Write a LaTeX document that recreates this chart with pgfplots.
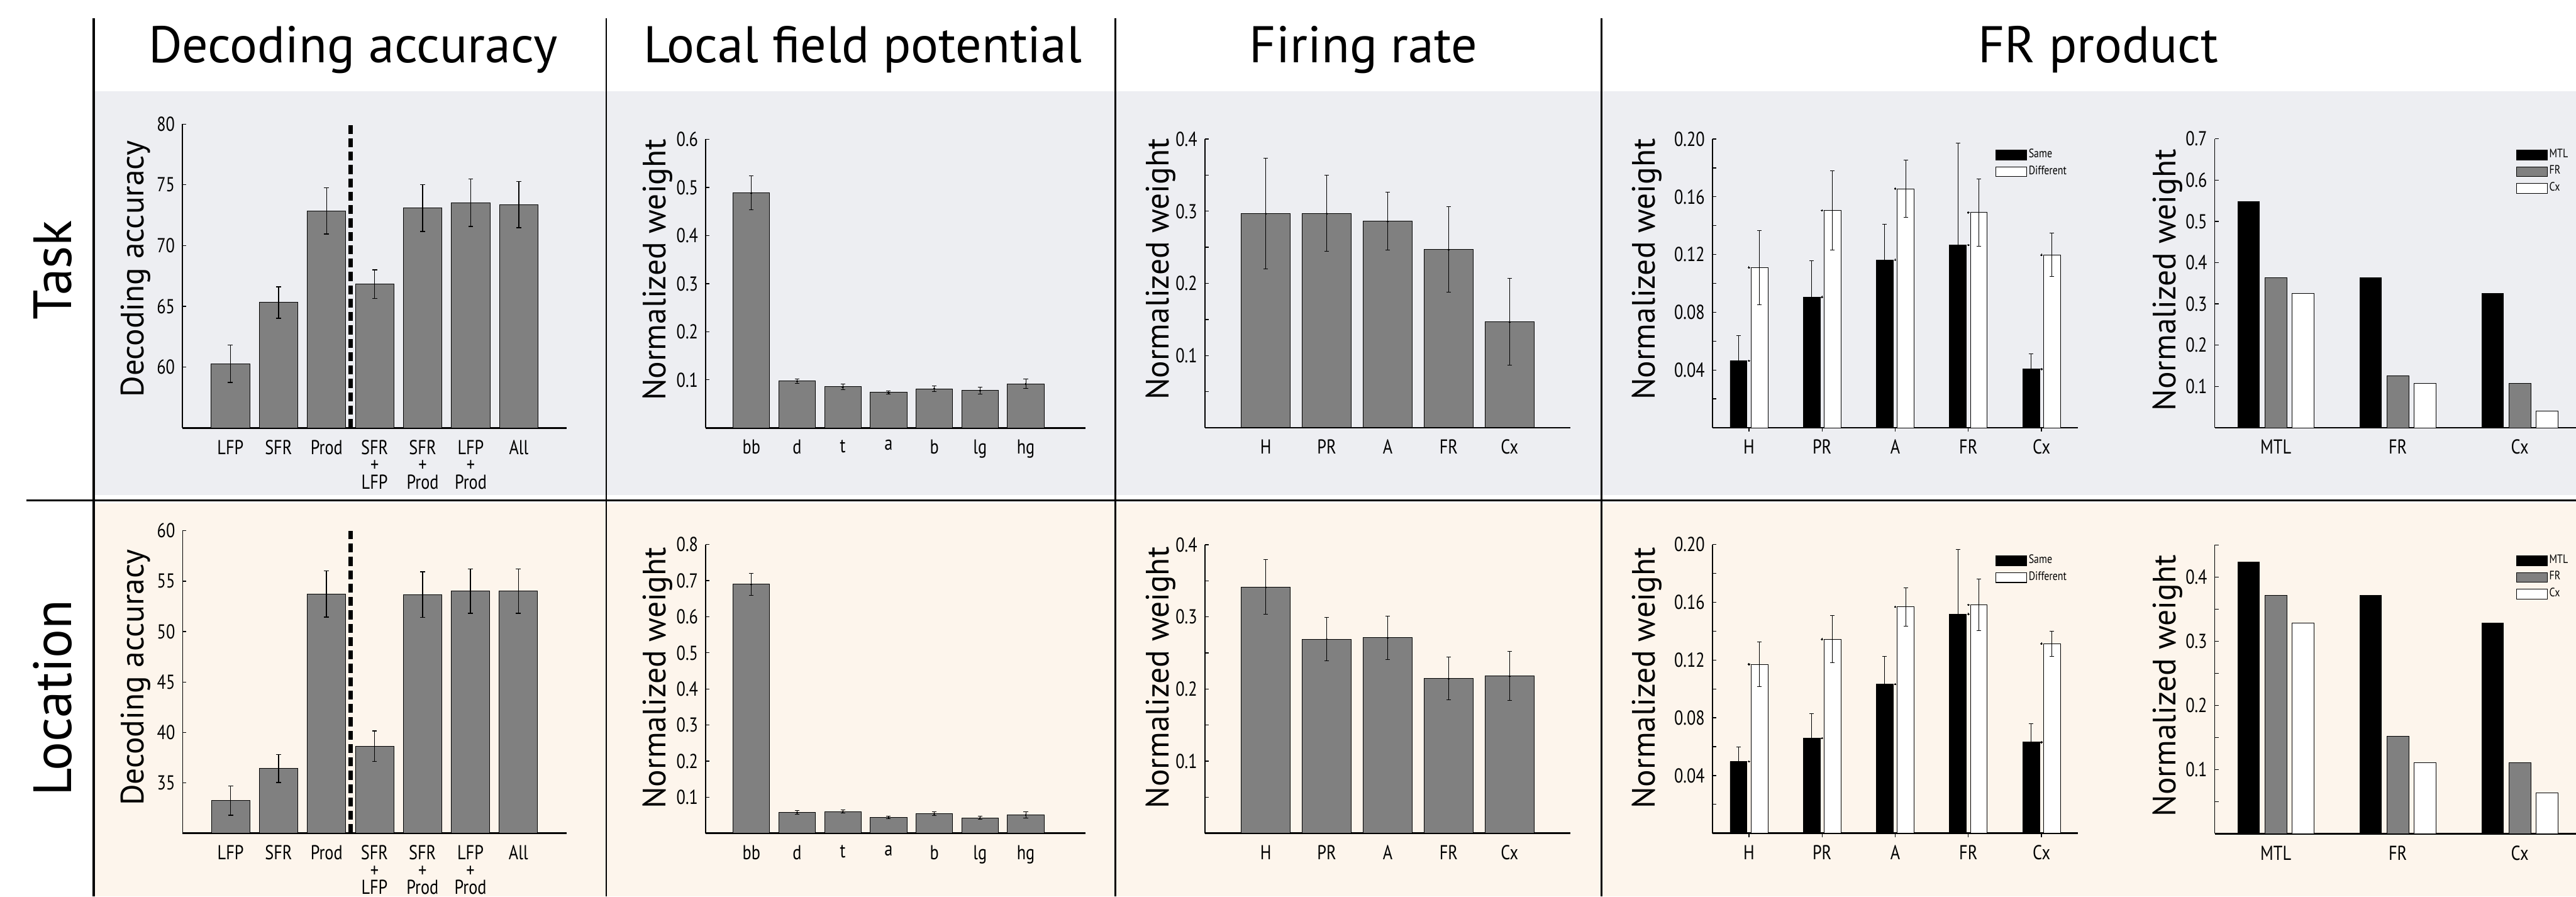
\documentclass[border=0pt]{standalone}
\usepackage{pgfplots}
\pgfplotsset{compat=1.18}
\usepackage{fontspec}
\setmainfont{PT Sans}
\newfontfamily\condfont[FakeStretch=0.82]{PT Sans}
\definecolor{taskbg}{RGB}{237,238,242}
\definecolor{locbg}{RGB}{253,245,236}
\definecolor{bargray}{RGB}{128,128,128}

\pgfplotsset{
  panel/.style={
    scale only axis,
    axis x line*=bottom, axis y line*=left,
    x axis line style={line width=0.75pt},
    y axis line style={line width=0.45pt},
    tick align=inside,
    major tick length=1.6pt, minor tick length=1.6pt,
    tick style={black, line width=0.35pt},
    major x tick style={draw=none},
    ymin=0,
    ticklabel style={font=\condfont\fontsize{8.6}{7.4}\selectfont},
    yticklabel style={xshift=0.3pt},
    /pgf/number format/assume math mode=true,
    label style={font=\fontsize{13.8}{15}\selectfont},
    ybar,
  },
  ylabpos/.style 2 args={ylabel style={at={(axis description cs:#1,#2)},anchor=base}},
  gbar/.style={fill=bargray, draw=black, line width=0.25pt},
  ebthick/.style={error bars/.cd, y dir=both, y explicit,
    error bar style={line width=0.4pt, black},
    error mark options={rotate=90, mark size=1.07pt, line width=0.4pt, black}},
  ebthin/.style={error bars/.cd, y dir=both, y explicit,
    error bar style={line width=0.25pt, black},
    error mark options={rotate=90, mark size=0.95pt, line width=0.25pt, black}},
  dot/.style={mark=*, mark size=0.35pt, mark options={fill=black, draw=black, line width=0pt}},
  lgbox/.style={legend image code/.code={\draw[##1, line width=0.3pt] (0pt,-2.1pt) rectangle (13.2pt,2.1pt);}},
  smalllegend/.style 2 args={legend style={at={(axis description cs:#1,#2)}, anchor=north west, draw=none, fill=none,
      inner sep=0pt, outer sep=0pt, row sep=0.6pt,
      font=\condfont\fontsize{5.2}{5.4}\selectfont, nodes={inner sep=0.7pt}},
      legend cell align=left},
}

\begin{document}
\begin{tikzpicture}
\useasboundingbox (0,0) rectangle (1098.8pt,-382.4pt);
\begin{scope}[x=0.2pt,y=-0.2pt]
  \fill[taskbg] (201,194) rectangle (5494,1056);
  \fill[locbg] (201,1073) rectangle (5494,1912);
\end{scope}

% ---------------- Panel 1: Decoding accuracy ----------------
\begin{axis}[panel, at={(77.8pt,-182.5pt)}, anchor=south west, width=164pt, height=129.6pt,
  xmin=0, xmax=8, ymin=55, ymax=80, ytick={60,65,70,75,80},
  xtick={1,...,7}, xticklabels={LFP,SFR,Prod,{SFR\\+\\LFP},{SFR\\+\\Prod},{LFP\\+\\Prod},All},
  xticklabel style={align=center},
  ylabel={Decoding accuracy}, ylabpos={-0.1}{0.523}]
\addplot[gbar, bar width=0.8, ebthick] coordinates {
 (1,60.28) +- (0,1.55)
 (2,65.32) +- (0,1.29)
 (3,72.86) +- (0,1.9)
 (4,66.83) +- (0,1.17)
 (5,73.08) +- (0,1.93)
 (6,73.53) +- (0,1.95)
 (7,73.37) +- (0,1.9)
};
\draw[line width=1.8pt, dash pattern=on 3.8pt off 1.9pt] (axis cs:3.5,55) -- (axis cs:3.5,80);
\end{axis}

\begin{axis}[panel, at={(77.9pt,-355.34pt)}, anchor=south west, width=163.7pt, height=129pt,
  xmin=0, xmax=8, ymin=30, ymax=60, ytick={35,40,45,50,55,60},
  xtick={1,...,7}, xticklabels={LFP,SFR,Prod,{SFR\\+\\LFP},{SFR\\+\\Prod},{LFP\\+\\Prod},All},
  xticklabel style={align=center},
  ylabel={Decoding accuracy}, ylabpos={-0.101}{0.515}]
\addplot[gbar, bar width=0.8, ebthick] coordinates {
 (1,33.25) +- (0,1.45)
 (2,36.41) +- (0,1.38)
 (3,53.73) +- (0,2.3)
 (4,38.63) +- (0,1.5)
 (5,53.68) +- (0,2.26)
 (6,54.0) +- (0,2.2)
 (7,54.02) +- (0,2.2)
};
\draw[line width=1.8pt, dash pattern=on 3.8pt off 1.9pt] (axis cs:3.5,30) -- (axis cs:3.5,60);
\end{axis}

% ---------------- Panel 2: Local field potential ----------------
\begin{axis}[panel, at={(301pt,-182.5pt)}, anchor=south west, width=161.9pt, height=123.1pt,
  xmin=0, xmax=8.3, ymax=0.6, ytick={0.1,0.2,0.3,0.4,0.5,0.6},
  xtick={1,...,7}, xticklabels={bb,d,t,a,b,lg,hg},
  ylabel={Normalized weight}, ylabpos={-0.106}{0.548}]
\addplot[gbar, bar width=0.8, dot, ebthin] coordinates {
 (1,0.4888) +- (0,0.035)
 (2,0.0973) +- (0,0.0046)
 (3,0.0855) +- (0,0.006)
 (4,0.0738) +- (0,0.0028)
 (5,0.0815) +- (0,0.006)
 (6,0.0779) +- (0,0.007)
 (7,0.0916) +- (0,0.01)
};
\end{axis}

\begin{axis}[panel, at={(301pt,-355.34pt)}, anchor=south west, width=161.9pt, height=123.1pt,
  xmin=0, xmax=8.3, ymax=0.8, ytick={0.1,0.2,0.3,0.4,0.5,0.6,0.7,0.8},
  xtick={1,...,7}, xticklabels={bb,d,t,a,b,lg,hg},
  ylabel={Normalized weight}, ylabpos={-0.106}{0.538}]
\addplot[gbar, bar width=0.8, dot, ebthin] coordinates {
 (1,0.69) +- (0,0.031)
 (2,0.058) +- (0,0.005)
 (3,0.06) +- (0,0.004)
 (4,0.0441) +- (0,0.004)
 (5,0.0545) +- (0,0.005)
 (6,0.0428) +- (0,0.005)
 (7,0.051) +- (0,0.0086)
};
\end{axis}

% ---------------- Panel 3: Firing rate ----------------
\begin{axis}[panel, at={(513.9pt,-182.4pt)}, anchor=south west, width=156pt, height=123.1pt,
  xmin=0, xmax=6, ymax=0.4, ytick={0.1,0.2,0.3,0.4}, minor ytick={0.05,0.15,0.25,0.35},
  xtick={1,...,5}, xticklabels={H,PR,A,FR,Cx},
  ylabel={Normalized weight}, ylabpos={-0.0987}{0.549}]
\addplot[gbar, bar width=0.8, dot, ebthin] coordinates {
 (1,0.297) +- (0,0.0768)
 (2,0.297) +- (0,0.0527)
 (3,0.286) +- (0,0.04)
 (4,0.247) +- (0,0.0596)
 (5,0.1468) +- (0,0.06)
};
\end{axis}

\begin{axis}[panel, at={(513.9pt,-355.34pt)}, anchor=south west, width=156pt, height=123pt,
  xmin=0, xmax=6, ymax=0.4, ytick={0.1,0.2,0.3,0.4}, minor ytick={0.05,0.15,0.25,0.35},
  xtick={1,...,5}, xticklabels={H,PR,A,FR,Cx},
  ylabel={Normalized weight}, ylabpos={-0.0987}{0.539}]
\addplot[gbar, bar width=0.8, dot, ebthin] coordinates {
 (1,0.3414) +- (0,0.038)
 (2,0.2692) +- (0,0.03)
 (3,0.2713) +- (0,0.03)
 (4,0.2147) +- (0,0.03)
 (5,0.2182) +- (0,0.034)
};
\end{axis}

% ---------------- Panel 4: FR product (Same/Different) ----------------
\begin{axis}[panel, at={(730.4pt,-182.4pt)}, anchor=south west, width=156pt, height=123.1pt,
  xmin=0.5, xmax=5.5, ymax=0.2, ytick={0.04,0.08,0.12,0.16,0.20}, minor ytick={0.02,0.06,0.10,0.14,0.18},
  yticklabel style={/pgf/number format/fixed, /pgf/number format/fixed zerofill, /pgf/number format/precision=2},
  xtick={1,...,5}, xticklabels={H,PR,A,FR,Cx}, major x tick style={draw=black},
  ylabel={Normalized weight}, ylabpos={-0.157}{0.549}, smalllegend={0.774}{0.972}]
\addplot[fill=black, draw=black, line width=0.2pt, bar width=0.23, bar shift=-0.143, lgbox, dot, ebthin] coordinates {
 (1,0.0464) +- (0,0.0175)
 (2,0.0906) +- (0,0.0253)
 (3,0.1163) +- (0,0.0248)
 (4,0.1266) +- (0,0.0706)
 (5,0.0406) +- (0,0.0106)
};
\addlegendentry{Same}
\addplot[fill=white, draw=black, line width=0.2pt, bar width=0.23, bar shift=0.143, lgbox, dot, ebthin] coordinates {
 (1,0.111) +- (0,0.0256)
 (2,0.1506) +- (0,0.0275)
 (3,0.1656) +- (0,0.0197)
 (4,0.1491) +- (0,0.0234)
 (5,0.1197) +- (0,0.015)
};
\addlegendentry{Different}
\end{axis}

\begin{axis}[panel, at={(730.4pt,-355.34pt)}, anchor=south west, width=156pt, height=123.1pt,
  xmin=0.5, xmax=5.5, ymax=0.2, ytick={0.04,0.08,0.12,0.16,0.20}, minor ytick={0.02,0.06,0.10,0.14,0.18},
  yticklabel style={/pgf/number format/fixed, /pgf/number format/fixed zerofill, /pgf/number format/precision=2},
  xtick={1,...,5}, xticklabels={H,PR,A,FR,Cx}, major x tick style={draw=black},
  ylabel={Normalized weight}, ylabpos={-0.157}{0.538}, smalllegend={0.774}{0.971}]
\addplot[fill=black, draw=black, line width=0.2pt, bar width=0.23, bar shift=-0.143, lgbox, dot, ebthin] coordinates {
 (1,0.0497) +- (0,0.0101)
 (2,0.0659) +- (0,0.017)
 (3,0.1033) +- (0,0.0193)
 (4,0.1519) +- (0,0.0447)
 (5,0.0631) +- (0,0.0128)
};
\addlegendentry{Same}
\addplot[fill=white, draw=black, line width=0.2pt, bar width=0.23, bar shift=0.143, lgbox, dot, ebthin] coordinates {
 (1,0.1171) +- (0,0.0156)
 (2,0.1345) +- (0,0.0163)
 (3,0.1569) +- (0,0.0133)
 (4,0.1583) +- (0,0.018)
 (5,0.1314) +- (0,0.0087)
};
\addlegendentry{Different}
\end{axis}

% ---------------- Panel 5: FR product (MTL/FR/Cx) ----------------
\begin{axis}[panel, at={(944.7pt,-182.4pt)}, anchor=south west, width=154.1pt, height=123.2pt,
  xmin=0.5, xmax=3.461, ymax=0.7, ytick={0.1,0.2,0.3,0.4,0.5,0.6,0.7},
  xtick={1,2,3}, xticklabels={MTL,FR,Cx},
  ylabel={Normalized weight}, ylabpos={-0.108}{0.511}, smalllegend={0.834}{0.971}]
\addplot[fill=black, draw=black, line width=0.2pt, bar width=0.178, bar shift=-0.222, lgbox] coordinates {(1,0.5484) (2,0.3636) (3,0.325)};
\addlegendentry{MTL}
\addplot[fill=bargray, draw=black, line width=0.2pt, bar width=0.178, bar shift=0, lgbox] coordinates {(1,0.3636) (2,0.1266) (3,0.107)};
\addlegendentry{FR}
\addplot[fill=white, draw=black, line width=0.2pt, bar width=0.178, bar shift=0.222, lgbox] coordinates {(1,0.325) (2,0.107) (3,0.041)};
\addlegendentry{Cx}
\end{axis}

\begin{axis}[panel, at={(944.7pt,-355.56pt)}, anchor=south west, width=154.1pt, height=123.2pt,
  xmin=0.5, xmax=3.461, ymax=0.45, ytick={0.1,0.2,0.3,0.4}, minor ytick={0.05,0.15,0.25,0.35,0.45},
  xtick={1,2,3}, xticklabels={MTL,FR,Cx},
  ylabel={Normalized weight}, ylabpos={-0.108}{0.512}, smalllegend={0.834}{0.972}]
\addplot[fill=black, draw=black, line width=0.2pt, bar width=0.178, bar shift=-0.222, lgbox] coordinates {(1,0.423) (2,0.371) (3,0.328)};
\addlegendentry{MTL}
\addplot[fill=bargray, draw=black, line width=0.2pt, bar width=0.178, bar shift=0, lgbox] coordinates {(1,0.371) (2,0.152) (3,0.111)};
\addlegendentry{FR}
\addplot[fill=white, draw=black, line width=0.2pt, bar width=0.178, bar shift=0.222, lgbox] coordinates {(1,0.328) (2,0.111) (3,0.0633)};
\addlegendentry{Cx}
\end{axis}

\begin{scope}[x=0.2pt,y=-0.2pt]
  \draw[line width=1pt] (200,39) -- (200,1912);
  \draw[line width=0.7pt] (1293,39) -- (1293,1912);
  \draw[line width=0.7pt] (2379,39) -- (2379,1912);
  \draw[line width=0.7pt] (3416,39) -- (3416,1912);
  \draw[line width=0.75pt] (57,1067) -- (5494,1067);
  \node[anchor=base, font=\fontsize{22}{25}\selectfont] at (753,133) {Decoding accuracy};
  \node[anchor=base, font=\fontsize{22}{25}\selectfont] at (1840,133) {Local field potential};
  \node[anchor=base, font=\fontsize{22}{25}\selectfont] at (2908,133) {Firing rate};
  \node[anchor=base, font=\fontsize{22}{25}\selectfont] at (4475,133) {FR product};
  \node[anchor=base, rotate=90, font=\fontsize{23}{26}\selectfont] at (152,576) {Task};
  \node[anchor=base, rotate=90, font=\fontsize{23}{26}\selectfont] at (152,1488) {Location};
\end{scope}
\end{tikzpicture}
\end{document}
